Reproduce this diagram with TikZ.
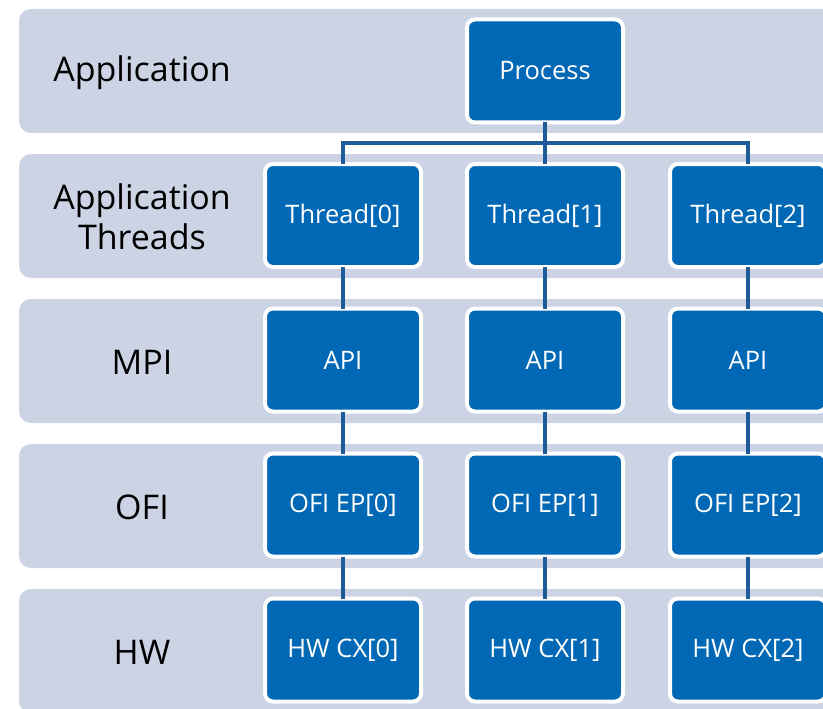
\documentclass[tikz,border=0pt]{standalone}
\usepackage{fontspec}
\setmainfont{Open Sans}
\definecolor{bandc}{HTML}{CBD3E4}
\definecolor{boxc}{HTML}{0068B5}
\definecolor{linec}{HTML}{1E5B99}
\begin{document}
\begin{tikzpicture}[x=1pt,y=-1pt,
  band/.style={fill=bandc,rounded corners=12pt},
  bx/.style={draw=white,line width=4pt,fill=boxc,rounded corners=8pt,
    minimum width=156pt,minimum height=103pt,inner sep=0pt,outer sep=0pt,
    text=white,font=\fontsize{25.5}{30}\selectfont},
  lbl/.style={align=center,font=\fontsize{34}{40}\selectfont,text=black},
  conn/.style={draw=linec,line width=4.5pt}]
\useasboundingbox (0,0) rectangle (823,709);
\begin{scope}
\clip (0,0) rectangle (823,709);
\foreach \y in {9,154,299,444,589}{
  \path[band] (19,\y) rectangle (860,\y+124);
}
\end{scope}
\node[lbl] (l1) at (142,73) {Application};
\node[lbl] (l2) at (142,217) {Application\\Threads};
\node[lbl] (l3) at (142,362) {MPI};
\node[lbl] (l4) at (142,507) {OFI};
\node[lbl] (l5) at (142,652) {HW};
\node[bx] (p) at (545,71) {Process};
\foreach \i/\x in {0/343,1/545,2/748}{
  \node[bx] (t\i) at (\x,215.5) {Thread[\i]};
  \node[bx] (a\i) at (\x,360) {API};
  \node[bx] (o\i) at (\x,505) {OFI EP[\i]};
  \node[bx] (h\i) at (\x,650) {HW CX[\i]};
}
\coordinate (bus) at (545,143);
\draw[conn] (p.south) -- (t1.north);
\draw[conn] (t0.north) |- (bus) -| (t2.north);
\foreach \i in {0,1,2}{
  \draw[conn] (t\i.south) -- (a\i.north);
  \draw[conn] (a\i.south) -- (o\i.north);
  \draw[conn] (o\i.south) -- (h\i.north);
}
\end{tikzpicture}
\end{document}
